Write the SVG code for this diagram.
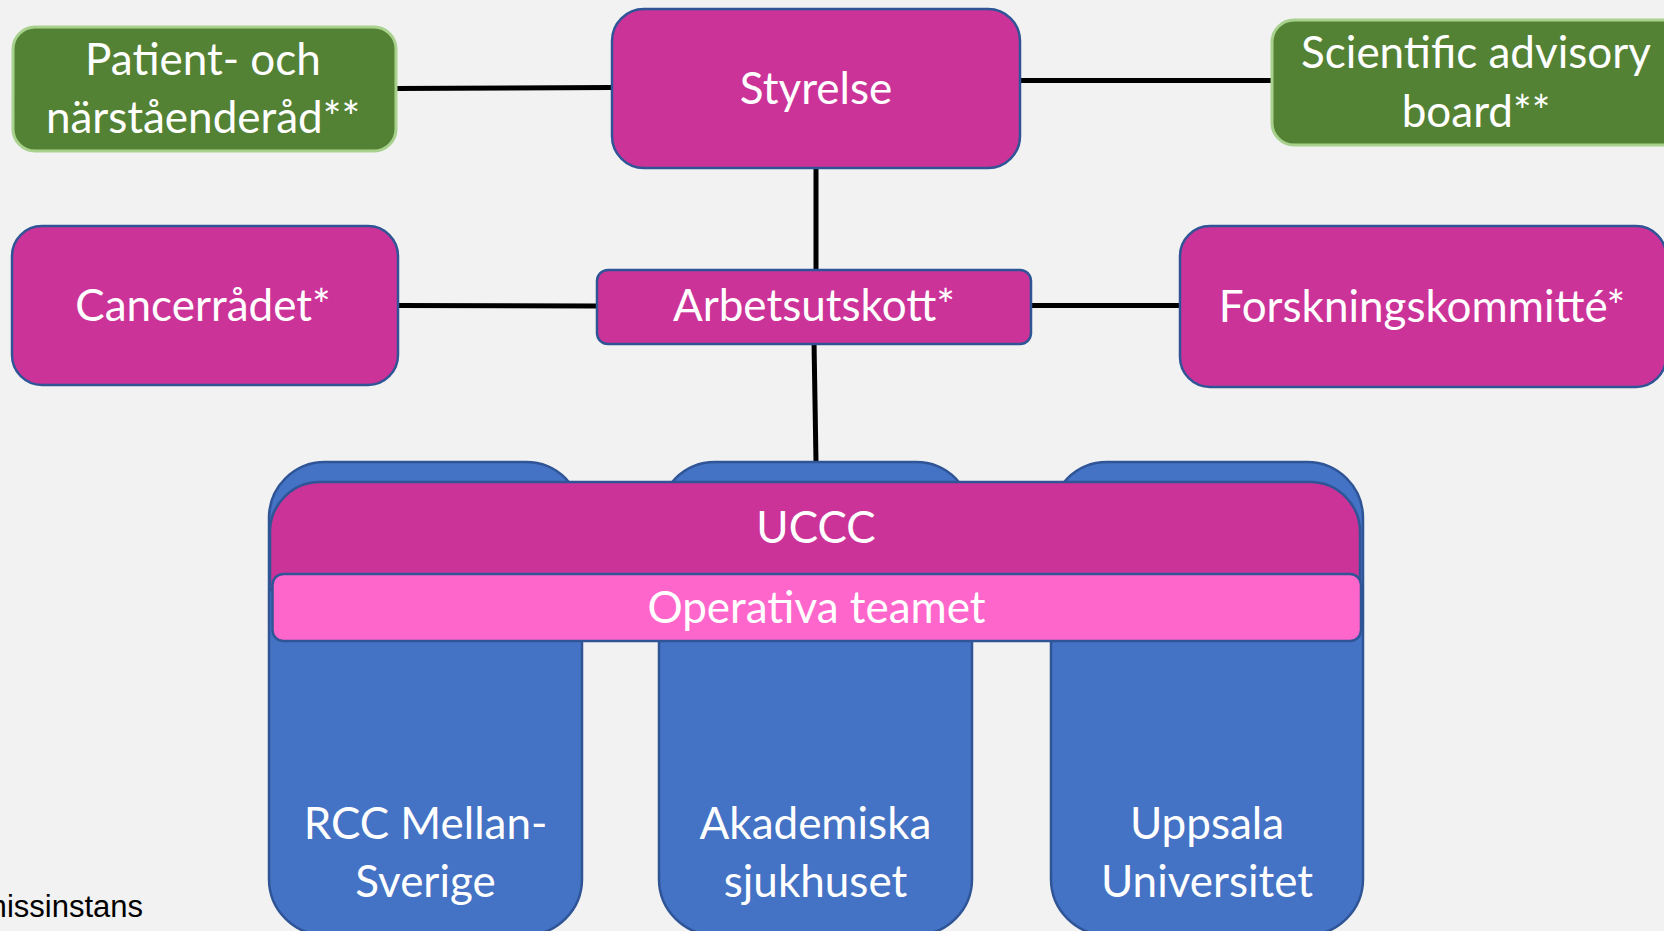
<svg xmlns="http://www.w3.org/2000/svg" width="1664" height="931" viewBox="0 0 1664 931">
<style>
.bg{fill:#F2F2F2}
.mag{fill:#CC3399;stroke:#2F5597;stroke-width:2.5}
.grn{fill:#548235;stroke:#A9D18E;stroke-width:3}
.blu{fill:#4472C4;stroke:#2F5597;stroke-width:2.5}
.pnk{fill:#FF66CC;stroke:#2F5597;stroke-width:2.5}
.t{font-family:Lato,"Open Sans",sans-serif;font-size:44px;fill:#FFFFFF;text-anchor:middle}
.c{stroke:#000000;stroke-width:5;fill:none}
.note{font-family:"Liberation Sans",Arial,sans-serif;font-size:31px;fill:#000000}
</style>
<rect class="bg" x="0" y="0" width="1664" height="931"/>
<g id="connectors">
<line class="c" x1="396" y1="88.5" x2="612" y2="87.5"/>
<line class="c" x1="1020" y1="80.5" x2="1272" y2="80.5"/>
<line class="c" x1="816" y1="168" x2="816" y2="270"/>
<line class="c" x1="398" y1="305.5" x2="597" y2="306"/>
<line class="c" x1="1031" y1="305.5" x2="1180" y2="305.5"/>
<line class="c" x1="814" y1="341" x2="816" y2="462"/>
</g>
<g id="patient">
<rect class="grn" x="13" y="27" width="383" height="124" rx="22"/>
<text class="t" x="203" y="75">Patient- och</text>
<text class="t" x="203" y="133">närståenderåd**</text>
</g>
<g id="styrelse">
<rect class="mag" x="612" y="9" width="408" height="159" rx="32"/>
<text class="t" x="816" y="104">Styrelse</text>
</g>
<g id="scientific">
<rect class="grn" x="1272" y="20" width="420" height="125" rx="22"/>
<text class="t" x="1476" y="68">Scientific advisory</text>
<text class="t" x="1476" y="127">board**</text>
</g>
<g id="cancerradet">
<rect class="mag" x="12" y="226" width="386" height="159" rx="30"/>
<text class="t" x="203" y="321">Cancerrådet*</text>
</g>
<g id="arbetsutskott">
<rect class="mag" x="597" y="270" width="434" height="74" rx="11"/>
<text class="t" x="814" y="321">Arbetsutskott*</text>
</g>
<g id="forskning">
<rect class="mag" x="1180" y="226" width="486" height="161" rx="30"/>
<text class="t" x="1422" y="322">Forskningskommitté*</text>
</g>
<g id="rcc">
<rect class="blu" x="269" y="462" width="313" height="473" rx="56"/>
<text class="t" x="425.5" y="839">RCC Mellan-</text>
<text class="t" x="425.5" y="897">Sverige</text>
</g>
<g id="akademiska">
<rect class="blu" x="659" y="462" width="313" height="473" rx="56"/>
<text class="t" x="815.5" y="839">Akademiska</text>
<text class="t" x="815.5" y="897">sjukhuset</text>
</g>
<g id="uppsala">
<rect class="blu" x="1051" y="462" width="312" height="473" rx="56"/>
<text class="t" x="1207" y="839">Uppsala</text>
<text class="t" x="1207" y="897">Universitet</text>
</g>
<g id="uccc">
<path class="mag" d="M270,590 L270,532 A50,50 0 0 1 320,482 L1310,482 A50,50 0 0 1 1360,532 L1360,590 Z"/>
<text class="t" x="816" y="543">UCCC</text>
</g>
<g id="operativa">
<rect class="pnk" x="272.5" y="574" width="1088.5" height="67" rx="11"/>
<text class="t" x="816.5" y="623">Operativa teamet</text>
</g>
<text class="note" x="143" y="917" text-anchor="end">missinstans</text>
</svg>
